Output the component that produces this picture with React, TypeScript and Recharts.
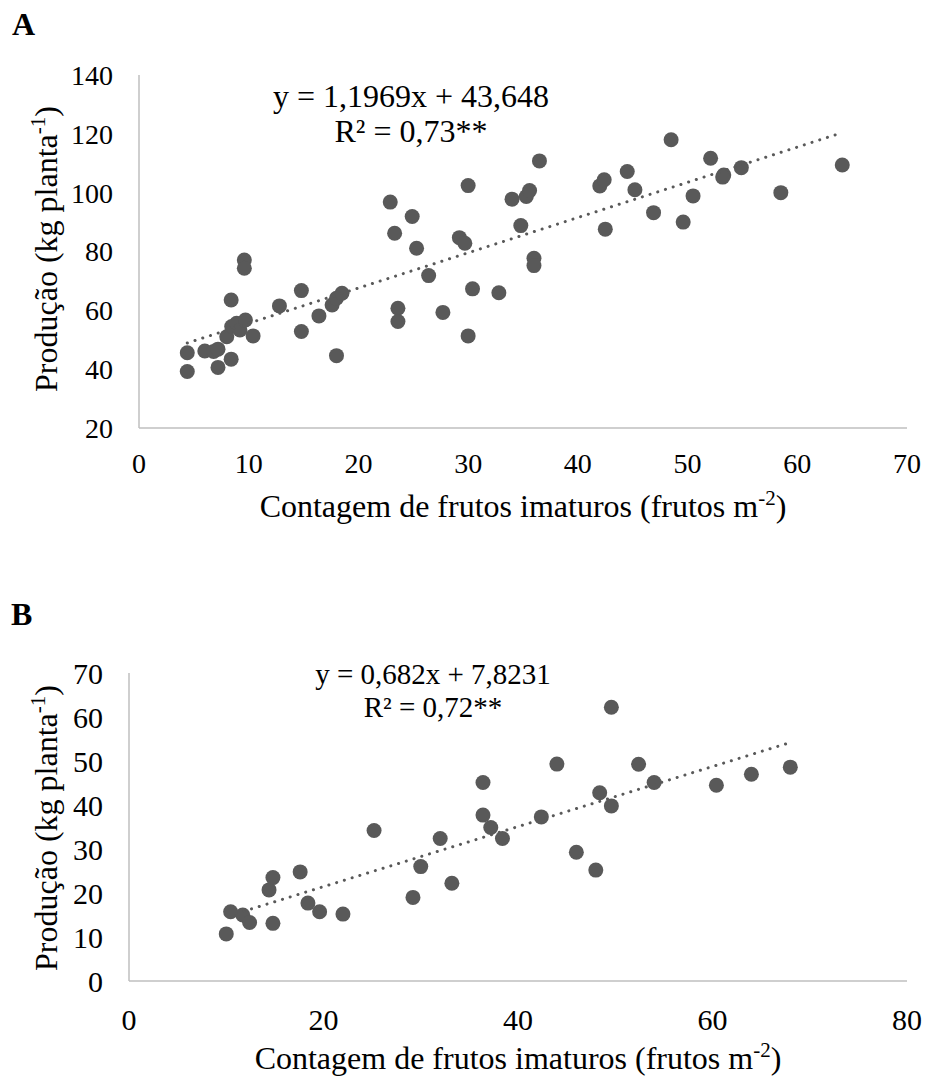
import React from 'react'
import { ScatterChart, Scatter, XAxis, YAxis } from 'recharts'

// Painel A
const xA = [4.4, 4.4, 6.0, 6.8, 7.2, 7.2, 8.4, 8.4, 8.0, 8.45, 8.9, 9.2, 9.7, 9.6, 9.6, 10.4, 12.8, 14.8, 14.8, 16.4, 17.6, 18.0, 18.5, 18.0, 22.9, 23.3, 24.9, 25.3, 23.6, 23.6, 26.4, 27.7, 29.2, 29.7, 30.0, 30.4, 30.0, 32.8, 34.0, 35.3, 35.6, 36.5, 34.8, 36.0, 36.0, 42.0, 42.4, 42.5, 44.5, 45.2, 46.9, 48.5, 49.6, 50.5, 52.1, 53.3, 53.2, 54.9, 58.5, 64.1]
const yA = [45.6, 39.2, 46.2, 46.0, 46.8, 40.6, 43.4, 63.5, 51.0, 54.5, 55.6, 53.3, 56.7, 77.1, 74.3, 51.3, 61.5, 66.7, 52.8, 58.1, 61.8, 64.1, 65.8, 44.6, 96.8, 86.2, 91.9, 81.1, 60.7, 56.2, 71.8, 59.3, 84.7, 82.8, 102.4, 67.3, 51.3, 66.0, 97.8, 98.7, 100.7, 110.8, 88.8, 77.7, 75.2, 102.3, 104.4, 87.6, 107.2, 101.0, 93.2, 118.0, 90.0, 98.9, 111.7, 106.0, 105.3, 108.5, 100.0, 109.4]
const trendXA = [4.4, 64.1]
const trendYA = [48.9, 120.4]
const xTicksA = [0, 10, 20, 30, 40, 50, 60, 70]
const yTicksA = [20, 40, 60, 80, 100, 120, 140]

// Painel B
const xB = [10.0, 10.45, 11.7, 12.4, 14.8, 14.4, 14.8, 17.6, 18.4, 19.6, 22.0, 25.2, 29.2, 30.0, 32.0, 33.2, 36.4, 36.4, 37.2, 38.4, 42.4, 44.0, 49.6, 46.0, 48.0, 48.4, 49.6, 52.4, 54.0, 60.4, 64.0, 68.0]
const yB = [10.7, 15.75, 15.0, 13.3, 13.1, 20.7, 23.5, 24.8, 17.7, 15.75, 15.2, 34.2, 19.0, 26.0, 32.4, 22.2, 45.1, 37.7, 34.9, 32.4, 37.3, 49.3, 62.2, 29.25, 25.2, 42.8, 39.8, 49.25, 45.1, 44.5, 47.0, 48.6]
const trendXB = [11, 68]
const trendYB = [15.3, 54.2]
const xTicksB = [0, 20, 40, 60, 80]
const yTicksB = [0, 10, 20, 30, 40, 50, 60, 70]

const FONT = "'Liberation Serif', 'Times New Roman', serif"
const DOT = '#595959'
const AXIS = '#bfbfbf'

const toPoints = (xs: number[], ys: number[]) => xs.map((x, i) => ({ x, y: ys[i] }))

const Dot = (props: any) => <circle cx={props.cx} cy={props.cy} r={7.5} fill={DOT} />
const NoDot = () => <g />

function YTitle({ cx, cy }: { cx: number; cy: number }) {
  return (
    <text transform={`translate(${cx}, ${cy}) rotate(-90)`} textAnchor="middle" style={{ fontFamily: FONT }} fontSize={32} fill="#000">
      Produção (kg planta<tspan dy={-12} fontSize={21}>-1</tspan><tspan dy={12}>)</tspan>
    </text>
  )
}

function XTitle({ cx, cy }: { cx: number; cy: number }) {
  return (
    <text x={cx} y={cy} textAnchor="middle" style={{ fontFamily: FONT }} fontSize={32} fill="#000">
      Contagem de frutos imaturos (frutos m<tspan dy={-12} fontSize={21}>-2</tspan><tspan dy={12}>)</tspan>
    </text>
  )
}

interface PanelProps {
  top: number
  height: number
  plotTop: number
  yAxisWidth: number
  xAxisHeight: number
  xDomain: [number, number]
  yDomain: [number, number]
  xTicks: number[]
  yTicks: number[]
  points: { x: number; y: number }[]
  trend: { x: number; y: number }[]
  tickSize: number
  xTickMargin: number
  yTitleY: number
  xTitleY: number
}

function Panel(p: PanelProps) {
  const tick = { fill: '#000', fontSize: p.tickSize, fontFamily: FONT, style: { fontFamily: FONT } }
  const plotLeft = p.yAxisWidth
  const plotRight = 930 - 23
  return (
    <div style={{ position: 'absolute', left: 0, top: p.top, width: 930, height: p.height }}>
      <ScatterChart width={930} height={p.height} margin={{ top: p.plotTop, right: 23, bottom: 0, left: 0 }}>
        <XAxis
          type="number"
          dataKey="x"
          domain={p.xDomain}
          ticks={p.xTicks}
          allowDataOverflow
          height={p.xAxisHeight}
          tick={tick}
          tickLine={false}
          tickSize={0}
          tickMargin={p.xTickMargin}
          axisLine={{ stroke: AXIS, strokeWidth: 1.5 }}
          label={() => <XTitle cx={(plotLeft + plotRight) / 2} cy={p.xTitleY} />}
        />
        <YAxis
          type="number"
          dataKey="y"
          domain={p.yDomain}
          ticks={p.yTicks}
          allowDataOverflow
          width={p.yAxisWidth}
          tick={tick}
          tickLine={false}
          tickSize={0}
          tickMargin={26}
          axisLine={{ stroke: AXIS, strokeWidth: 1.5 }}
          label={() => <YTitle cx={57} cy={p.yTitleY} />}
        />
        <Scatter data={p.points} fill={DOT} shape={Dot} isAnimationActive={false} />
        <Scatter
          data={p.trend}
          fill={DOT}
          shape={NoDot}
          line={{ stroke: DOT, strokeWidth: 3, strokeDasharray: '0.1 8', strokeLinecap: 'round' }}
          isAnimationActive={false}
        />
      </ScatterChart>
    </div>
  )
}

export default function App() {
  const t = { fontFamily: FONT }
  return (
    <div style={{ position: 'absolute', left: 0, top: 0, width: 930, height: 1081, background: '#fff', fontFamily: FONT }}>
      <Panel
        top={0}
        height={540}
        plotTop={75}
        yAxisWidth={139}
        xAxisHeight={112}
        xDomain={[0, 70]}
        yDomain={[20, 140]}
        xTicks={xTicksA}
        yTicks={yTicksA}
        points={toPoints(xA, yA)}
        trend={toPoints(trendXA, trendYA)}
        tickSize={28}
        xTickMargin={25}
        yTitleY={249}
        xTitleY={517}
      />
      <Panel
        top={560}
        height={521}
        plotTop={113}
        yAxisWidth={129}
        xAxisHeight={100}
        xDomain={[0, 80]}
        yDomain={[0, 70]}
        xTicks={xTicksB}
        yTicks={yTicksB}
        points={toPoints(xB, yB)}
        trend={toPoints(trendXB, trendYB)}
        tickSize={30}
        xTickMargin={28}
        yTitleY={268}
        xTitleY={509}
      />
      <svg width={930} height={1081} style={{ position: 'absolute', left: 0, top: 0, pointerEvents: 'none' }}>
        <text x={12} y={35} style={t} fontSize={32} fontWeight="bold">A</text>
        <text x={411} y={107} style={t} fontSize={32} textAnchor="middle">y = 1,1969x + 43,648</text>
        <text x={411} y={142} style={t} fontSize={32} textAnchor="middle">R² = 0,73**</text>
        <text x={11} y={625} style={t} fontSize={32} fontWeight="bold">B</text>
        <text x={433} y={684} style={t} fontSize={29} textAnchor="middle">y = 0,682x + 7,8231</text>
        <text x={433} y={717} style={t} fontSize={29} textAnchor="middle">R² = 0,72**</text>
      </svg>
    </div>
  )
}
